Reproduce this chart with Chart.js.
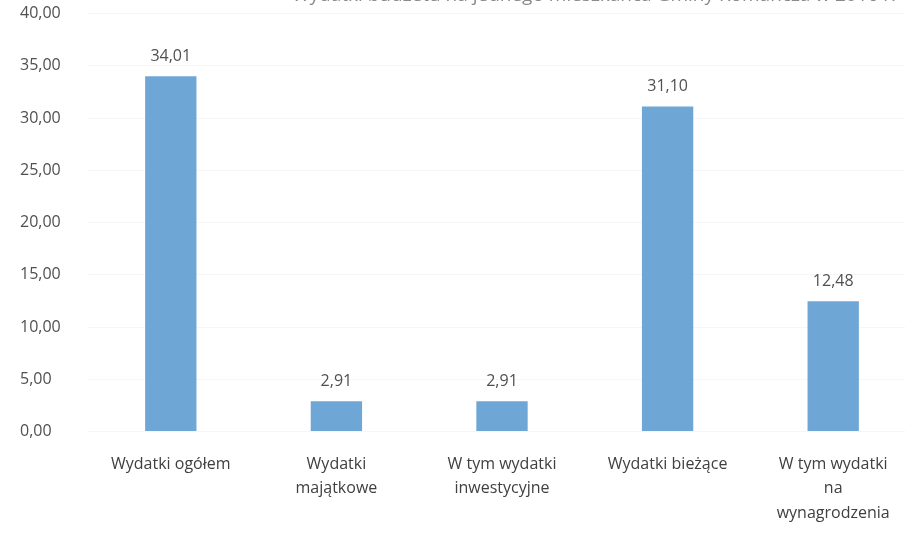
<!DOCTYPE html>
<html lang="pl">
<head>
<meta charset="utf-8">
<title>Wydatki na jednego mieszkańca</title>
<script src="https://cdn.jsdelivr.net/npm/chart.js@4/dist/chart.umd.min.js"></script>
<style>
  html, body { margin: 0; padding: 0; background: #fff; overflow: hidden; }
  #wrap { position: relative; width: 916px; height: 535px; }
  #title {
    position: absolute; top: -19px; left: 292px; white-space: nowrap;
    font-family: "Open Sans", sans-serif; font-size: 19px; color: #8a8a8a;
  }
</style>
</head>
<body>
<div id="wrap">
  <div id="title">Wydatki budżetu na jednego mieszkańca Gminy Komańcza w 2016 r.</div>
  <canvas id="expenses-chart" width="916" height="535"></canvas>
</div>
<script>
// Categories (x axis labels, wrapped like in the original)
const categories = [
  'Wydatki ogółem',
  ['Wydatki', 'majątkowe'],
  ['W tym wydatki', 'inwestycyjne'],
  'Wydatki bieżące',
  ['W tym wydatki', 'na', 'wynagrodzenia']
];

// Values per inhabitant
const values = [34.01, 2.91, 2.91, 31.10, 12.48];

// Y axis range
const yMin = 0;
const yMax = 40;
const yStep = 5;

// Polish number format, e.g. 12,48
function formatPl(v) {
  return v.toFixed(2).replace('.', ',');
}

// Plugin that writes the value above each bar
const valueLabels = {
  id: 'valueLabels',
  afterDatasetsDraw(chart) {
    const ctx = chart.ctx;
    const meta = chart.getDatasetMeta(0);
    ctx.save();
    ctx.font = '16px "Open Sans", sans-serif';
    ctx.fillStyle = '#505050';
    ctx.textAlign = 'center';
    ctx.textBaseline = 'bottom';
    meta.data.forEach((bar, i) => {
      ctx.fillText(formatPl(values[i]), bar.x, bar.y - 12);
    });
    ctx.restore();
  }
};

// Build the bar chart
function initializeChart() {
  const ctx = document.getElementById('expenses-chart').getContext('2d');
  new Chart(ctx, {
    type: 'bar',
    data: {
      labels: categories,
      datasets: [{
        data: values,
        backgroundColor: '#6ea7d6',
        barPercentage: 0.62,
        categoryPercentage: 0.5
      }]
    },
    options: {
      responsive: false,
      animation: false,
      layout: { padding: { top: 3, left: 20, right: 0, bottom: -11 } },
      plugins: {
        legend: { display: false },
        tooltip: { enabled: false }
      },
      scales: {
        x: {
          grid: { display: false, drawTicks: false },
          border: { display: false },
          ticks: {
            color: '#404040',
            font: { family: '"Open Sans", sans-serif', size: 16, lineHeight: 1.55 },
            padding: 20,
            maxRotation: 0,
            autoSkip: false
          }
        },
        y: {
          min: yMin,
          max: yMax,
          grid: { color: '#f6f6f6', drawTicks: false },
          border: { display: false },
          ticks: {
            stepSize: yStep,
            color: '#505050',
            font: { family: '"Open Sans", sans-serif', size: 16 },
            padding: 4,
            crossAlign: 'far',
            callback: (v) => formatPl(v)
          },
          afterFit: (scale) => { scale.width = 68; }
        }
      }
    },
    plugins: [valueLabels]
  });
}

document.addEventListener('DOMContentLoaded', initializeChart);
</script>
</body>
</html>
